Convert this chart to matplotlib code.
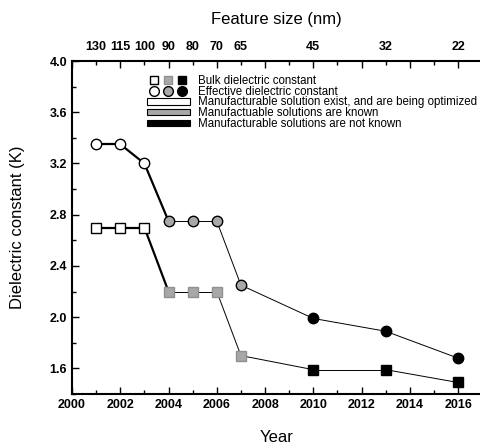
import matplotlib
matplotlib.use("Agg")
import matplotlib.pyplot as plt
from matplotlib.lines import Line2D
from matplotlib.patches import Patch
from matplotlib.legend_handler import HandlerTuple
from matplotlib.ticker import MultipleLocator

plt.rcParams['font.family'] = ['Liberation Sans', 'DejaVu Sans']

years = [2001, 2002, 2003, 2004, 2005, 2006, 2007, 2010, 2013, 2016]
feature_nm = ['130', '115', '100', '90', '80', '70', '65', '45', '32', '22']
effective_k = [3.35, 3.35, 3.20, 2.75, 2.75, 2.75, 2.25, 1.99, 1.89, 1.68]
bulk_k = [2.70, 2.70, 2.70, 2.20, 2.20, 2.20, 1.70, 1.59, 1.59, 1.49]
# status per node: 0 = being optimized, 1 = known, 2 = not known
status = [0, 0, 0, 1, 1, 1, 1, 2, 2, 2]

fill_for = {0: 'white', 1: '#a8a8a8', 2: 'black'}
GRAY = '#a8a8a8'

fig = plt.figure(figsize=(4.81, 4.44), dpi=100)
ax = fig.add_axes([0.1497, 0.1126, 0.8503, 0.75])

# connecting lines: thick among open symbols, thin afterwards
for series in (effective_k, bulk_k):
    for i in range(len(years) - 1):
        thick = status[i] == 0
        ax.plot(years[i:i + 2], series[i:i + 2], color='black',
                lw=1.6 if thick else 0.7, zorder=1)

for x, ye, yb, s in zip(years, effective_k, bulk_k, status):
    ax.plot(x, ye, marker='o', ms=7.5, mfc=fill_for[s], mec='black',
            mew=1.0, ls='none', zorder=3)
    ax.plot(x, yb, marker='s', ms=6.6, mfc=fill_for[s],
            mec='black' if s != 1 else '#909090', mew=1.0, ls='none', zorder=3)

ax.set_xlim(2000, 2016.95)
ax.set_ylim(1.4, 4.0)
ax.xaxis.set_major_locator(MultipleLocator(2))
ax.xaxis.set_minor_locator(MultipleLocator(1))
ax.yaxis.set_minor_locator(MultipleLocator(0.2))
ax.set_yticks([1.6, 2.0, 2.4, 2.8, 3.2, 3.6, 4.0])
ax.set_yticklabels(['1.6', '2.0', '2.4', '2.8', '3.2', '3.6', '4.0'])
ax.tick_params(which='both', direction='in', top=True, right=False,
               labelsize=9, width=1.0)
ax.tick_params(which='major', length=5)
ax.tick_params(which='minor', length=3)
for lbl in ax.get_xticklabels() + ax.get_yticklabels():
    lbl.set_fontweight('bold')
ax.spines['right'].set_visible(False)
for sp in ('left', 'bottom', 'top'):
    ax.spines[sp].set_linewidth(1.5)

ax.set_xlabel('Year', fontsize=12, labelpad=14)
ax.set_ylabel('Dielectric constant (K)', fontsize=12, labelpad=18)

sec = ax.secondary_xaxis('top')
sec.set_xticks(years)
sec.set_xticklabels(feature_nm, fontsize=9, fontweight='bold')
sec.tick_params(length=0, pad=6)
sec.spines['top'].set_visible(False)
sec.set_xlabel('Feature size (nm)', fontsize=12, labelpad=12)

def sq(c, ec='black'):
    return Line2D([], [], marker='s', ms=6.2, mfc=c, mec=ec, ls='none')

def ci(c):
    return Line2D([], [], marker='o', ms=7, mfc=c, mec='black', ls='none')

handles = [
    (sq('white'), sq(GRAY, '#909090'), sq('black')),
    (ci('white'), ci(GRAY), ci('black')),
    Patch(facecolor='white', edgecolor='black', lw=0.8),
    Patch(facecolor=GRAY, edgecolor='black', lw=0.8),
    Patch(facecolor='black', edgecolor='black', lw=0.8),
]
labels = [
    'Bulk dielectric constant',
    'Effective dielectric constant',
    'Manufacturable solution exist, and are being optimized',
    'Manufactuable solutions are known',
    'Manufacturable solutions are not known',
]
ax.legend(handles, labels, loc='upper left', bbox_to_anchor=(0.183, 0.959),
          frameon=False, fontsize=8.3, handlelength=3.7, handleheight=0.5,
          handletextpad=0.75, labelspacing=-0.1, borderpad=0, borderaxespad=0,
          handler_map={tuple: HandlerTuple(ndivide=None)})

fig.savefig('out.png', dpi=100)
